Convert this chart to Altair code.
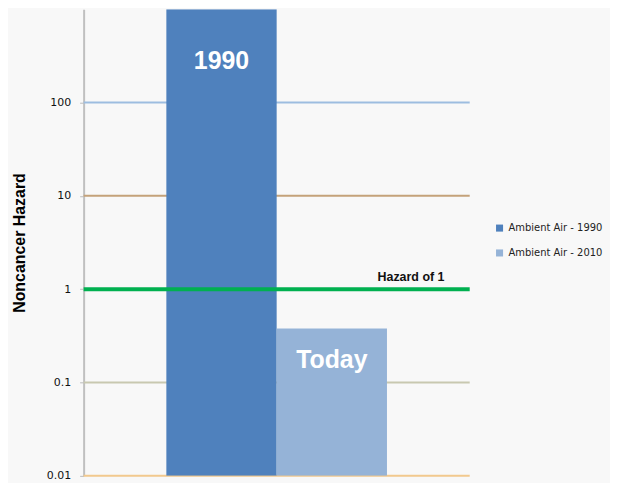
import altair as alt
import pandas as pd

# Data
series = ["Ambient Air - 1990", "Ambient Air - 2010"]
hazard_values = [1000, 0.38]
bar_colors = ["#4f81bd", "#95b3d7"]
bar_labels = ["1990", "Today"]
bar_label_y = [280, 0.175]

grid_values = [100, 10, 0.1, 0.01]
grid_colors = ["#9dbde0", "#c4a27a", "#c8c8b0", "#f2c98e"]
tick_values = [0.01, 0.1, 1, 10, 100]
hazard_level = [1]

FONT = "Liberation Sans"
FONT2 = "DejaVu Sans"

bars_df = pd.DataFrame({"series": series, "value": hazard_values, "base": [0.01, 0.01]})
labels_df = pd.DataFrame({"series": series, "label": bar_labels, "y": bar_label_y})
grid_df = pd.DataFrame({"v": grid_values, "c": grid_colors})
hz_df = pd.DataFrame({"v": hazard_level, "t": ["Hazard of 1"]})

yscale = alt.Scale(type="log", domain=[0.01, 1000])
xscale = alt.Scale(domain=series, paddingInner=0, paddingOuter=0.75)

grid = alt.Chart(grid_df).mark_rule(strokeWidth=2).encode(
    y=alt.Y("v:Q", scale=yscale),
    stroke=alt.Stroke("c:N", scale=None, legend=None),
)

bars = alt.Chart(bars_df).mark_bar(clip=True).encode(
    x=alt.X("series:N", scale=xscale, axis=None),
    y=alt.Y("value:Q", scale=yscale,
            axis=alt.Axis(values=tick_values, format="~g", grid=False,
                          title="Noncancer Hazard", titleFont=FONT, titleFontSize=16,
                          titleFontWeight="bold", titleColor="#000", titlePadding=19,
                          labelFont=FONT2, labelFontSize=11, labelColor="#111",
                          labelPadding=9, tickSize=4, tickColor="#bbbbbb",
                          domainColor="#c0c0c0", domainWidth=2)),
    y2="base:Q",
    fill=alt.Fill("series:N", scale=alt.Scale(domain=series, range=bar_colors),
                  legend=alt.Legend(title=None, orient="none", legendX=413, legendY=215,
                                    symbolType="square", symbolSize=50,
                                    symbolStrokeWidth=0,
                                    labelFont=FONT2, labelFontSize=10, labelColor="#222",
                                    rowPadding=15, labelLimit=300)),
)

hz_line = alt.Chart(hz_df).mark_rule(strokeWidth=4, color="#00b050").encode(
    y=alt.Y("v:Q", scale=yscale),
)

hz_text = alt.Chart(hz_df).mark_text(font=FONT, fontSize=12.5, fontWeight="bold",
                                      color="#111", dy=-12).encode(
    x=alt.value(329),
    y=alt.Y("v:Q", scale=yscale),
    text="t:N",
)

bar_text = alt.Chart(labels_df).mark_text(font=FONT, fontSize=25, fontWeight="bold",
                                          color="white").encode(
    x=alt.X("series:N", scale=xscale),
    y=alt.Y("y:Q", scale=yscale),
    text="label:N",
)

chart = alt.layer(grid, bars, hz_line, hz_text, bar_text).properties(
    width=388, height=469,
    autosize=alt.AutoSizeParams(type="none"),
    padding={"left": 76, "top": 0, "right": 141, "bottom": 6},
    background="#f8f8f8",
).configure_view(stroke=None)

chart.save("out.html", embed_options={"renderer": "svg", "actions": False})
